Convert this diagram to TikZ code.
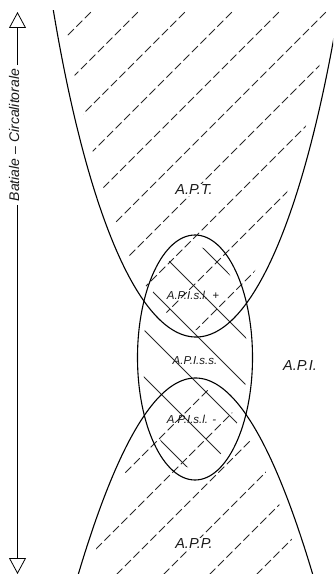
\documentclass[tikz,border=0pt]{standalone}
\usepackage{fontspec}
\setmainfont{Liberation Sans}
\usetikzlibrary{arrows.meta}
\begin{document}
\begin{tikzpicture}[x=1pt,y=-1pt,
  bound/.style={line width=1.1pt, black},
  dashhatch/.style={line width=0.75pt, black!85, dash pattern=on 8.5pt off 3.5pt},
  solidhatch/.style={line width=0.75pt, black!85},
  lbl/.style={font=\fontsize{14.5}{17}\selectfont\itshape, text=black!90, inner sep=1pt, fill=white},
  slbl/.style={font=\fontsize{11.5}{14}\selectfont\itshape, text=black!90, inner sep=1pt},
  axis/.style={line width=0.8pt, black, -{Triangle[open,length=16pt,width=17pt]}}
]
\useasboundingbox (0,0) rectangle (333,575);

% upper (A.P.T.) dashed hatching
\begin{scope}
\clip (0,11) rectangle (333,575);
\clip plot[domain=-14.3:-0.8, samples=80] ({204+10*\x},{331-(77-sqrt(5929-18*\x*\x))/0.09})
  -- plot[domain=0.8:14.3, samples=80] ({188+10*\x},{331-(77-sqrt(5929-18*\x*\x))/0.09}) -- cycle;
\foreach \c in {103,150,197,244,291,338,385,432,479,526}
  \draw[dashhatch] ({\c-400},400) -- ({\c+20},-20);
\end{scope}

% lower (A.P.P.) dashed hatching
\begin{scope}
\clip (0,0) rectangle (333,573);
\clip plot[domain=-12:-0.8, samples=60] ({203.5+10*\x},{384+1.42857*\x*\x})
  -- plot[domain=0.8:12, samples=60] ({187.5+10*\x},{384+1.42857*\x*\x}) -- cycle;
\foreach \c in {598,645,691,738,784,831}
  \draw[dashhatch] ({\c-600},600) -- ({\c-300},300);
\end{scope}

% ellipse (A.P.I.) solid hatching
\begin{scope}
\clip (195,357.5) ellipse [x radius=52pt, y radius=111pt];
\foreach \c in {-45,-92,-139,-186,-233,-280}
  \draw[solidhatch] (100,{100-\c}) -- (300,{300-\c});
\end{scope}

% boundaries
\begin{scope}
\clip (0,11) rectangle (333,575);
\draw[bound] plot[domain=-14.3:14.3, samples=150, smooth] ({196+10*\x},{337-(77-sqrt(5929-18*\x*\x))/0.09});
\end{scope}
\begin{scope}
\clip (0,0) rectangle (333,573.5);
\draw[bound] plot[domain=-11.9:11.9, samples=100, smooth] ({195.5+10*\x},{378+1.42857*\x*\x});
\end{scope}
\draw[bound] (195,357.5) ellipse [x radius=57.5pt, y radius=122.5pt];

% labels
\node[lbl] (apt) at (194,190) {A.P.T.};
\node[lbl] (app) at (194,543.5) {A.P.P.};
\node[lbl] (api) at (300,366) {A.P.I.};
\node[slbl] (slp) at (193,295) {A.P.I.s.l. +};
\node[slbl] (sss) at (195,361) {A.P.I.s.s.};
\node[slbl] (slm) at (191.5,419) {A.P.I.s.l. -};

% depth axis
\node[font=\fontsize{14}{16}\selectfont\itshape, text=black!90, rotate=90, inner sep=3.5pt] (side) at (14,135) {Batiale \textendash\ Circalitorale};
\coordinate (atop) at (17.5,12);
\coordinate (abot) at (17.5,574);
\draw[axis] (atop |- side.east) -- (atop);
\draw[axis] (abot |- side.west) -- (abot);
\end{tikzpicture}
\end{document}
